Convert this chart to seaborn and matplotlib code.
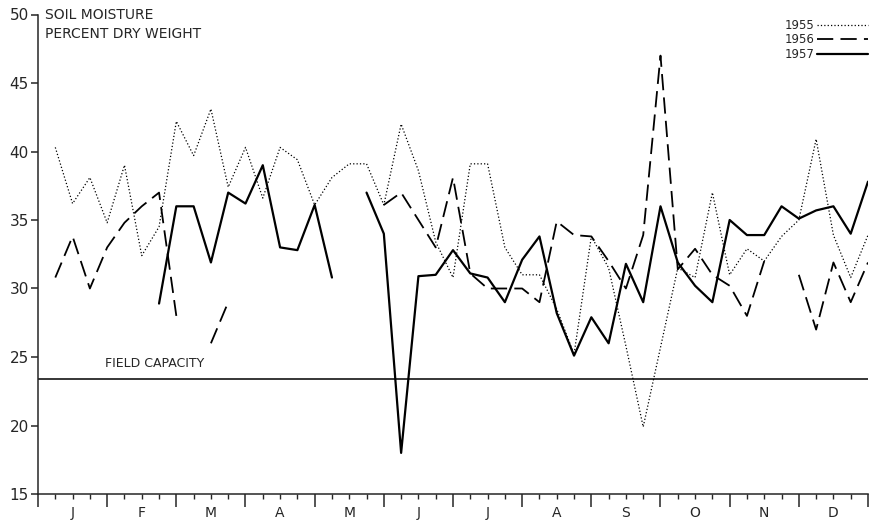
import numpy as np
import pandas as pd
import matplotlib
matplotlib.use("Agg")
import matplotlib.pyplot as plt
from matplotlib.lines import Line2D
import seaborn as sns

NaN = np.nan

# Sampling points: four readings per month (quarter-month index 1..48)
weeks = list(range(1, 49))
month_labels = ["J", "F", "M", "A", "M", "J", "J", "A", "S", "O", "N", "D"]
years = ["1955", "1956", "1957"]

moisture_1955 = [40.3, 36.2, 38.1, 34.8, 39.0, 32.4, 34.5, 42.2,
                 39.7, 43.1, 37.4, 40.3, 36.6, 40.3, 39.4, 36.1,
                 38.1, 39.1, 39.1, 36.1, 42.0, 38.6, 33.4, 30.8,
                 39.1, 39.1, 33.0, 31.0, 31.0, 28.5, 25.2, 33.8,
                 31.5, 25.8, 19.9, 25.7, 31.5, 30.8, 37.0, 31.0,
                 32.9, 32.0, 33.8, 35.0, 40.9, 33.9, 30.8, 33.9]

moisture_1956 = [30.8, 33.8, 30.0, 33.0, 34.8, 36.0, 37.0, 28.0,
                 NaN, 26.0, 29.0, NaN, NaN, NaN, NaN, NaN,
                 NaN, NaN, NaN, 36.1, 37.0, 35.0, 33.0, 38.1,
                 31.1, 30.0, 30.0, 30.0, 29.0, 34.9, 33.9, 33.8,
                 32.0, 30.0, 33.9, 47.0, 31.4, 32.9, 31.0, 30.2,
                 28.0, 32.0, NaN, 31.0, 27.0, 31.9, 29.0, 31.9]

moisture_1957 = [NaN, NaN, NaN, NaN, NaN, NaN, 28.9, 36.0,
                 36.0, 31.9, 37.0, 36.2, 39.0, 33.0, 32.8, 36.1,
                 30.8, NaN, 37.0, 34.0, 18.0, 30.9, 31.0, 32.8,
                 31.1, 30.8, 29.0, 32.1, 33.8, 28.2, 25.1, 27.9,
                 26.0, 31.8, 29.0, 36.0, 31.9, 30.2, 29.0, 35.0,
                 33.9, 33.9, 36.0, 35.1, 35.7, 36.0, 34.0, 37.8]

field_capacity = 23.4

sns.set_style("ticks")
plt.rcParams["font.family"] = ["DejaVu Sans"]

fig = plt.figure(figsize=(8.7, 5.2), dpi=100)
ax = fig.add_axes([38 / 870, 26 / 520, 830 / 870, 479.5 / 520])

line_styles = {
    "1955": dict(linewidth=0.9, linestyle=(0, (1, 1.7))),
    "1956": dict(linewidth=1.3, linestyle=(0, (9, 4))),
    "1957": dict(linewidth=1.6, linestyle="-"),
}

for year, values in zip(years, [moisture_1955, moisture_1956, moisture_1957]):
    df = pd.DataFrame({"week": weeks, "moisture": values})
    # break the line wherever a reading is missing
    df["segment"] = df["moisture"].isna().cumsum()
    df = df.dropna()
    sns.lineplot(data=df, x="week", y="moisture", units="segment",
                 estimator=None, sort=False, color="black", legend=False,
                 ax=ax, **line_styles[year])

ax.axhline(field_capacity, color="black", linewidth=1.1)
ax.text(3.9, field_capacity + 1.15, "FIELD CAPACITY", fontsize=9,
        va="center", ha="left")

ax.text(0.4, 49.95, "SOIL MOISTURE", fontsize=10, va="center", ha="left",
        clip_on=False)
ax.text(0.4, 48.55, "PERCENT DRY WEIGHT", fontsize=10, va="center",
        ha="left", clip_on=False)

ax.set_xlim(0, 48)
ax.set_ylim(15, 50)
ax.set_xlabel("")
ax.set_ylabel("")
sns.despine(ax=ax)
for side in ("left", "bottom"):
    ax.spines[side].set_linewidth(1.1)

ax.set_yticks(range(15, 51, 5))
ax.tick_params(axis="y", direction="out", length=5, width=1.1, pad=1.5,
               labelsize=11)

ax.set_xticks(range(0, 49, 4), labels=[""] * 13)
minor_pos = [k for k in range(49) if k % 4 != 0]
minor_lab = [month_labels[k // 4] if k % 4 == 2 else "" for k in minor_pos]
ax.set_xticks(minor_pos, labels=minor_lab, minor=True)
ax.tick_params(axis="x", which="major", direction="out", length=9, width=1.1)
ax.tick_params(axis="x", which="minor", direction="out", length=3.8,
               width=1.0, pad=5, labelsize=10)

handles = [Line2D([], [], color="black", **line_styles[y]) for y in years]
ax.legend(handles, years, loc="upper right", bbox_to_anchor=(1.0, 0.99),
          markerfirst=False, frameon=False, fontsize=8.5, handlelength=4.3,
          handletextpad=0.25, labelspacing=0.1, borderaxespad=0, borderpad=0)

fig.savefig("out.png", dpi=100)
